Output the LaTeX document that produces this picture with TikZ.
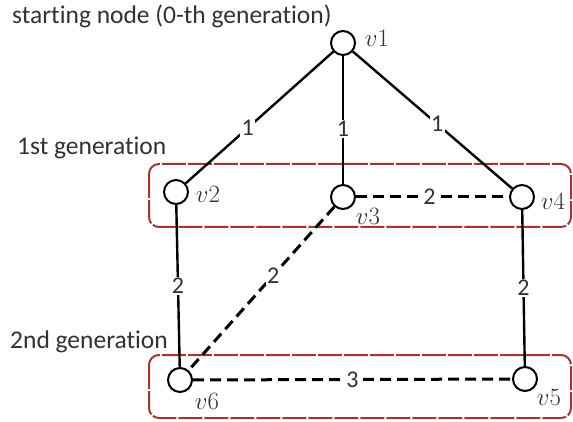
\documentclass[tikz,border=0pt]{standalone}
\usepackage{fontspec}
\setmainfont{Carlito}[Ligatures={NoCommon}]
\usepackage{xcolor}
\usetikzlibrary{positioning}
\definecolor{genred}{RGB}{163,52,52}
\definecolor{txtgray}{RGB}{50,50,50}

\begin{document}
\begin{tikzpicture}[x=1pt,y=-1pt,
    vtx/.style={circle,draw,line width=2pt,minimum size=24pt,inner sep=0pt,fill=white},
    edge/.style={line width=2.4pt},
    dedge/.style={line width=3pt,dash pattern=on 11pt off 6pt},
    wt/.style={fill=white,inner sep=1.5pt,text=txtgray,font=\fontsize{24}{26}\selectfont},
    vname/.style={inner sep=0pt,text=txtgray,font=\fontsize{23}{26}\selectfont},
    gentext/.style={inner sep=0pt,anchor=base west,text=txtgray,font=\fontsize{25.5}{28}\selectfont},
    genbox/.style={draw=genred,line width=2pt,rounded corners=10pt,dash pattern=on 24pt off 2pt}]
    \useasboundingbox (0,0) rectangle (573,422);
    % generation boxes
    \draw[genbox] (149,164) rectangle (571,227);
    \draw[genbox] (149,355) rectangle (571,418);
    % vertices
    \node[vtx] (v1) at (343,43) {};
    \node[vtx] (v2) at (176,192) {};
    \node[vtx] (v3) at (343,197) {};
    \node[vtx] (v4) at (522,197) {};
    \node[vtx] (v5) at (525,379) {};
    \node[vtx] (v6) at (180,380) {};
    \node[vname] at (377,38) {$v1$};
    \node[vname] at (208,194) {$v2$};
    \node[vname] at (368,216) {$v3$};
    \node[vname] at (553,201) {$v4$};
    \node[vname] at (549,397) {$v5$};
    \node[vname] at (207,401) {$v6$};
    % edges
    \draw[edge] (v1) -- node[wt,pos=0.58] {1} (v2);
    \draw[edge] (v1) -- node[wt,pos=0.57] {1} (v3);
    \draw[edge] (v1) -- node[wt,pos=0.53] {1} (v4);
    \draw[dedge] (v3) -- node[wt,pos=0.48] {2} (v4);
    \draw[edge] (v2) -- node[wt] {2} (v6);
    \draw[dedge] (v3) -- node[wt,pos=0.42] {2} (v6);
    \draw[edge] (v4) -- node[wt] {2} (v5);
    \draw[dedge] (v6) -- node[wt] {3} (v5);
    % generation names
    \node[gentext] (g0) at (12,24) {starting node (0-th generation)};
    \node[gentext] (g1) at (17,155) {1st generation};
    \node[gentext] (g2) at (10,348) {2nd generation};
\end{tikzpicture}
\end{document}
